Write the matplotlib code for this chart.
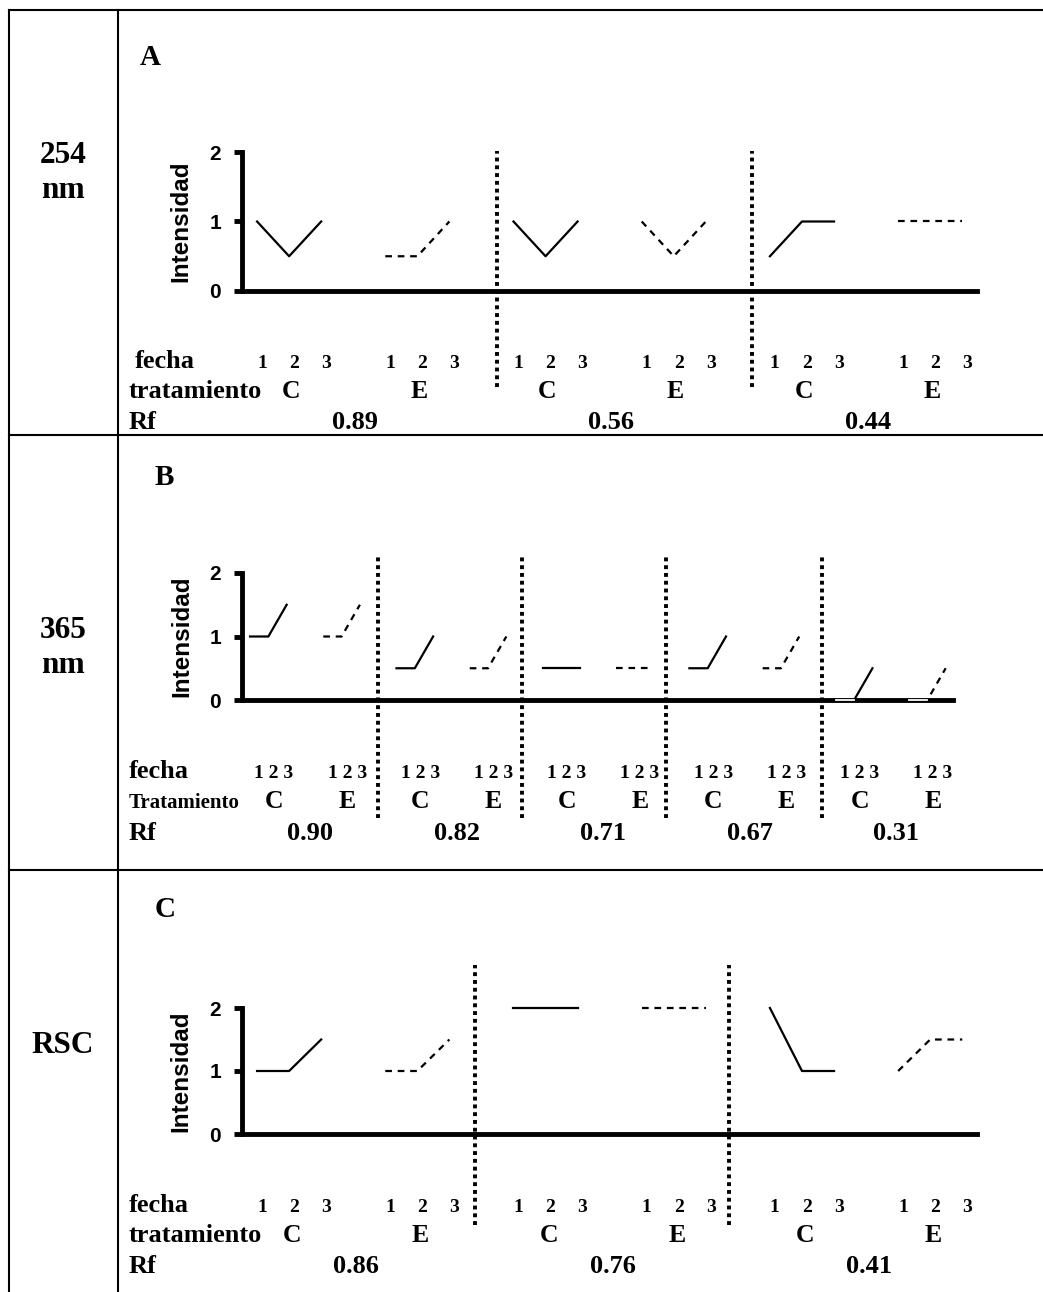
import matplotlib
matplotlib.use("Agg")
import matplotlib.pyplot as plt
from matplotlib.lines import Line2D
from matplotlib.transforms import blended_transform_factory

W, H = 1043, 1292

# values (intensity per fecha 1-2-3, groups alternate C / E)
fechas = ["1", "2", "3"]
tratamientos = ["C", "E"]

int_254 = [[1, 0.5, 1], [0.5, 0.5, 1],
           [1, 0.5, 1], [1, 0.5, 1],
           [0.5, 1, 1], [1, 1, 1]]
rf_254 = ["0.89", "0.56", "0.44"]

int_365 = [[1, 1, 1.5], [1, 1, 1.5],
           [0.5, 0.5, 1], [0.5, 0.5, 1],
           [0.5, 0.5, 0.5], [0.5, 0.5, 0.5],
           [0.5, 0.5, 1], [0.5, 0.5, 1],
           [0, 0, 0.5], [0, 0, 0.5]]
rf_365 = ["0.90", "0.82", "0.71", "0.67", "0.31"]

int_rsc = [[1, 1, 1.5], [1, 1, 1.5],
           [2, 2, 2], [2, 2, 2],
           [2, 1, 1], [1, 1.5, 1.5]]
rf_rsc = ["0.86", "0.76", "0.41"]

SERIF = "Liberation Serif"
SANS = "Liberation Sans"

fig = plt.figure(figsize=(W / 100, H / 100), dpi=100)


def fy(y):
    return 1 - y / H


def tline(x0, y0, x1, y1):
    fig.add_artist(Line2D([x0 / W, x1 / W], [fy(y0), fy(y1)], color="black",
                          lw=1.5, transform=fig.transFigure))


# table grid
tline(9, 10, 1043, 10)
tline(9, 10, 9, 1292)
tline(118, 10, 118, 1292)
tline(9, 435, 1043, 435)
tline(9, 870, 1043, 870)


def draw_panel(values, rfs, cfg):
    left, right, ytop, ybot = cfg["box"]
    ax = fig.add_axes([left / W, fy(ybot), (right - left) / W, (ybot - ytop) / H])
    ax.set_xlim(cfg["xlim"])
    ax.set_ylim(0, 2)
    ax.patch.set_alpha(0)
    for s in ["top", "right"]:
        ax.spines[s].set_visible(False)
    for s in ["left", "bottom"]:
        ax.spines[s].set_linewidth(3.5)
    ax.set_xticks([])
    ax.set_yticks([0, 1, 2])
    ax.set_yticklabels(["0", "1", "2"], fontsize=15, fontweight="bold", family=SANS)
    ax.tick_params(axis="y", direction="out", length=6, width=3.5, pad=9)
    ax.text(cfg["ylab_x"], 0.5, "Intensidad", transform=ax.transAxes, rotation=90,
            ha="center", va="center", fontsize=17.5, fontweight="bold", family=SANS)

    tr = blended_transform_factory(ax.transData, fig.transFigure)
    for g, vals in enumerate(values):
        xs = [4 * g + j for j in range(3)]
        ls = "-" if g % 2 == 0 else (0, (3, 2.6))
        ax.plot(xs, vals, color="black", lw=1.6, linestyle=ls, clip_on=False, zorder=3)
        for j in range(2):
            if vals[j] == 0 and vals[j + 1] == 0:
                ax.plot(xs[j:j + 2], [0, 0], color="white", lw=1.3, clip_on=False, zorder=4)
        if cfg["tight"]:
            ax.text(xs[1] + 0.3, fy(cfg["b_fecha"]), " ".join(fechas), transform=tr,
                    ha="center", va="baseline", fontsize=14, fontweight="bold", family=SERIF)
        else:
            for x, f in zip(xs, fechas):
                ax.text(x + 0.15, fy(cfg["b_fecha"]), f, transform=tr, ha="center",
                        va="baseline", fontsize=14, fontweight="bold", family=SERIF)
        ax.text(xs[1] + cfg["trat_dx"], fy(cfg["b_trat"]), tratamientos[g % 2], transform=tr,
                ha="center", va="baseline", fontsize=18.5, fontweight="bold", family=SERIF)
    for k, rf in enumerate(rfs):
        ax.text(8 * k + 3 + cfg["trat_dx"], fy(cfg["b_rf"]), rf, transform=tr, ha="center",
                va="baseline", fontsize=19, fontweight="bold", family=SERIF)
    lo, hi = cfg["div_span"]
    for d in cfg["dividers"]:
        ax.axvline(d, ymin=lo, ymax=hi, color="black", lw=2.8, linestyle=(0, (1, 1)),
                   clip_on=False, zorder=5)

    fig.text(cfg["fecha_x"] / W, fy(cfg["b_fecha"]), "fecha", ha="left", va="baseline",
             fontsize=19, fontweight="bold", family=SERIF)
    fig.text(129 / W, fy(cfg["b_trat"]), cfg["trat_label"], ha="left", va="baseline",
             fontsize=cfg["trat_size"], fontweight="bold", family=SERIF)
    fig.text(129 / W, fy(cfg["b_rf"]), "Rf", ha="left", va="baseline",
             fontsize=19, fontweight="bold", family=SERIF)
    lx, ly, ls_ = cfg["letter"]
    fig.text(lx / W, fy(ly), ls_, ha="left", va="baseline", fontsize=21,
             fontweight="bold", family=SERIF)
    for txt, yb in cfg["row_label"]:
        fig.text(63 / W, fy(yb), txt, ha="center", va="baseline", fontsize=22.5,
                 fontweight="bold", family=SERIF)
    return ax


panel_a = dict(box=(242, 977, 152, 291), xlim=(-0.47, 22.46), ylab_x=-0.083,
               dividers=[7.49, 15.44], div_span=(-0.69, 1.005), tight=False,
               b_fecha=368, b_trat=398, b_rf=429, fecha_x=135, trat_dx=0.05,
               trat_label="tratamiento", trat_size=19,
               letter=(140, 65, "A"), row_label=[("254", 163), ("nm", 198)])
panel_b = dict(box=(242, 953, 573, 700), xlim=(-0.44, 38.4), ylab_x=-0.084,
               dividers=[7.0, 14.86, 22.73, 31.26], div_span=(-0.93, 1.13), tight=True,
               b_fecha=778, b_trat=808, b_rf=840, fecha_x=129, trat_dx=0.3,
               trat_label="Tratamiento", trat_size=15,
               letter=(155, 485, "B"), row_label=[("365", 638), ("nm", 673)])
panel_c = dict(box=(242, 977, 1008, 1134), xlim=(-0.47, 22.46), ylab_x=-0.083,
               dividers=[6.8, 14.73], div_span=(-0.72, 1.34), tight=False,
               b_fecha=1212, b_trat=1242, b_rf=1273, fecha_x=129, trat_dx=0.1,
               trat_label="tratamiento", trat_size=19,
               letter=(155, 917, "C"), row_label=[("RSC", 1053)])

draw_panel(int_254, rf_254, panel_a)
draw_panel(int_365, rf_365, panel_b)
draw_panel(int_rsc, rf_rsc, panel_c)

fig.savefig("out.png", dpi=100)
